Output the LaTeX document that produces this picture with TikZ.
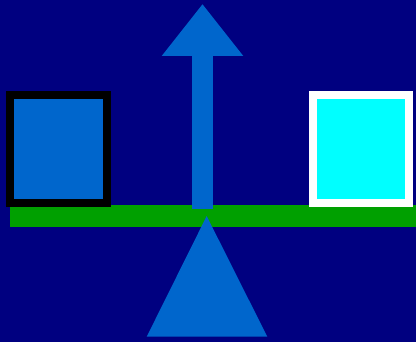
\documentclass[tikz,border=0pt]{standalone}
\definecolor{navybg}{HTML}{000080}
\definecolor{midblue}{HTML}{0066CC}
\definecolor{barg}{HTML}{00A000}
\definecolor{cyanfill}{HTML}{00FFFF}
\begin{document}
\begin{tikzpicture}[x=1pt,y=-1pt,
  bluepart/.style={fill=midblue},
  frame/.style={line width=8pt}]
\useasboundingbox (0,0) rectangle (416,342);
\fill[navybg] (0,0) rectangle (416,342);
% beam
\fill[barg] (10,205.3) rectangle (416,226.7);
% left box
\filldraw[frame,draw=black,fill=midblue] (10.2,95) rectangle (106.5,202.7);
% right box
\filldraw[frame,draw=white,fill=cyanfill] (312.5,95) rectangle (408.8,202.7);
% arrow shaft and head
\fill[bluepart] (192.3,209) rectangle (212.7,55);
\fill[bluepart] (161.7,56) -- (202.5,4.3) -- (243.3,56) -- cycle;
% fulcrum
\fill[bluepart] (146.7,336.7) -- (206.7,216) -- (267.3,336.7) -- cycle;
\end{tikzpicture}
\end{document}
